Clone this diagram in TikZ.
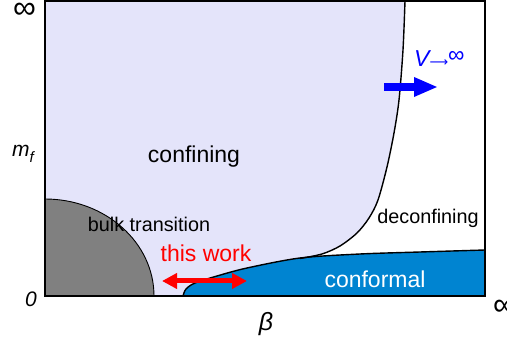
\documentclass[tikz,border=0pt]{standalone}
\usepackage{fontspec}
\setmainfont{Liberation Sans}
\newfontfamily\dejavu{DejaVu Sans}
\usetikzlibrary{arrows.meta}
\definecolor{lav}{RGB}{228,228,250}
\definecolor{confblue}{RGB}{0,132,209}
\definecolor{bulkgray}{RGB}{128,128,128}
\definecolor{vblue}{RGB}{0,0,255}
\tikzset{
  lbl/.style={inner sep=0pt, outer sep=0pt, anchor=base},
  big/.style={font=\fontsize{23}{23}\selectfont},
  mid/.style={font=\fontsize{19.8}{20}\selectfont},
  axis/.style={font=\fontsize{21}{21}\selectfont\itshape},
  boundary/.style={draw=black, line width=1.4pt},
}
\begin{document}
\begin{tikzpicture}[x=1pt,y=-1pt]
\useasboundingbox (0,0) rectangle (507,347);
% box interior
\fill[white] (45,1) rectangle (485,296);
% confining region
\fill[lav] (45,1) -- (405,1) -- plot[smooth] coordinates {(405,1) (403,50) (399,100) (394,133) (387,167) (378,200) (369,218) (357,233) (340,246) (322,254) (300,258.5)} -- (300,296) -- (45,296) -- cycle;
% bulk transition
\fill[bulkgray] (45,199) arc[start angle=-90, end angle=0, x radius=109, y radius=97] -- (45,296) -- cycle;
\draw[black, line width=0.9pt] (45,199) arc[start angle=-90, end angle=0, x radius=109, y radius=97];
% conformal
\fill[confblue] plot[smooth] coordinates {(183,296) (186,289) (195,283) (217,276) (247,268) (300,258) (360,254) (420,252) (485,250)} -- (485,296) -- cycle;
\draw[boundary] plot[smooth] coordinates {(183,296) (186,289) (195,283) (217,276) (247,268) (300,258) (360,254) (420,252) (485,250)};
% deconfinement boundary
\draw[boundary] plot[smooth] coordinates {(405,1) (403,50) (399,100) (394,133) (387,167) (378,200) (369,218) (357,233) (340,246) (322,254) (300,258.5)};
% frame
\draw[black, line width=2.2pt, line join=miter] (45,1) rectangle (485,296);
% texts
\node[lbl, big] (confining) at (194,163) {confining};
\node[lbl, mid] (deconf) at (428,224) {deconfining};
\node[lbl, mid] (bulk) at (149,232) {bulk transition};
\node[lbl, big, text=red] (thiswork) at (206,262) {this work};
\node[lbl, big, text=white] (conformal) at (375,288) {conformal};
\node[inner sep=0pt, anchor=base west, big, text=vblue] (vinf) at (414,67) {\itshape V\upshape{\dejavu\fontsize{13}{13}\selectfont ⟶}\raisebox{4pt}{∞}};
% axis labels
\node[inner sep=0pt, font=\fontsize{32}{32}\selectfont] (inftop) at (24.5,11) {∞};
\node[inner sep=0pt, anchor=west, font=\fontsize{32}{32}\selectfont] (infright) at (493,308) {∞};
\node[inner sep=0pt, anchor=base west, axis] (mf) at (12,157) {m\raisebox{-0.25em}{\fontsize{15}{15}\selectfont f}};
\node[lbl, axis] (zero) at (31,307) {0};
\node[lbl, font=\fontsize{25}{25}\selectfont\itshape] (beta) at (266,331) {β};
% arrows
\coordinate (ra) at (162,281);
\coordinate (rb) at (247,281);
\draw[red, line width=5pt, {Triangle[length=15pt,width=15pt]}-{Triangle[length=15pt,width=15pt]}] (ra) -- (rb);
\coordinate (ba) at (384,87);
\coordinate (bb) at (438,87);
\draw[vblue, line width=8.5pt, -{Triangle[length=24pt,width=18pt]}] (ba) -- (bb);
\end{tikzpicture}
\end{document}
